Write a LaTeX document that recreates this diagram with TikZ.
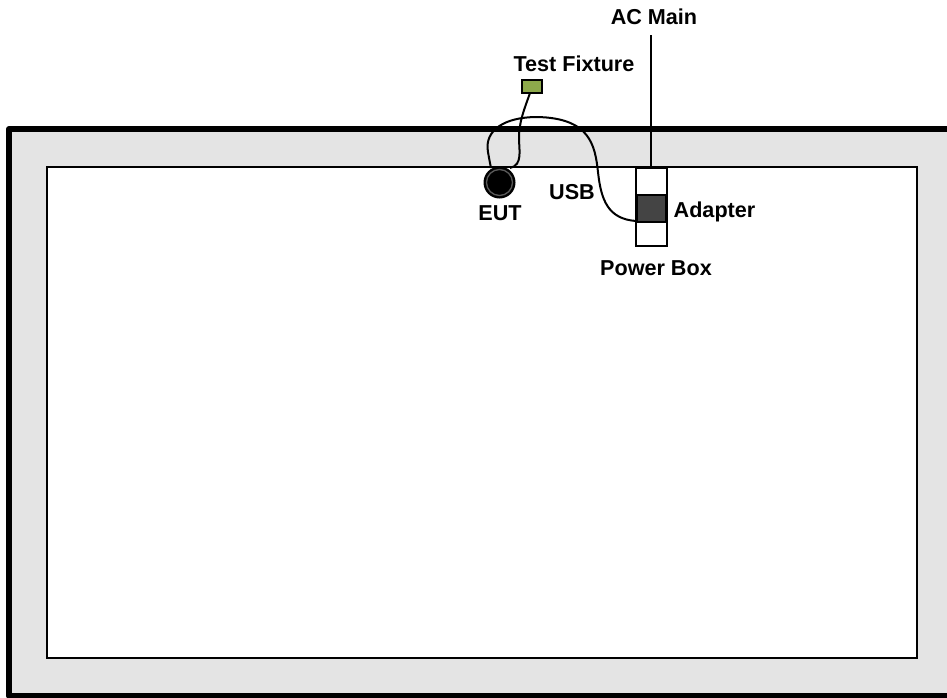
\documentclass[tikz,border=0pt]{standalone}
\usepackage{fontspec}
\setmainfont{Liberation Sans}
\definecolor{roomgray}{HTML}{E4E4E4}
\definecolor{fixgreen}{HTML}{8DA94B}
\definecolor{adaptgray}{HTML}{444444}
\tikzset{
  lbl/.style={font=\fontsize{16.2}{18}\selectfont\bfseries, inner sep=0pt, text=black},
  cable/.style={draw=black, line width=1.5pt},
  blockbox/.style={draw=black, line width=1.5pt, inner sep=0pt, minimum width=0pt}
}
\begin{document}
\begin{tikzpicture}[x=0.75pt,y=-0.75pt]
\useasboundingbox (0,0) rectangle (947,697);
\fill[white] (0,0) rectangle (947,697);
\begin{scope}
\clip (0,0) rectangle (947,697);
\path[fill=roomgray,draw=black,line width=4.5pt,line join=round] (980,129) -- (9,129) -- (9,695.5) -- (980,695.5);
\end{scope}
\node[draw=black,fill=white,line width=1.4pt,inner sep=0pt,minimum width=652pt,minimum height=368pt] (floor) at (482,412.5) {};
\node[blockbox,fill=white,minimum width=23pt,minimum height=58.5pt] (power) at (651.5,207) {};
\node[blockbox,fill=adaptgray,minimum width=21.5pt,minimum height=20pt] (adapter) at (651.5,208.5) {};
\node[fill=black,circle,inner sep=0pt,minimum size=24pt] (eut) at (499.5,182.5) {};
\draw[draw=black!65,line width=1pt] (eut.center) circle (13);
\node[blockbox,fill=fixgreen,line width=1.1pt,minimum width=15pt,minimum height=9.5pt] (fixture) at (532,86.5) {};
\node[lbl] (acmain) at (654,17) {AC Main};
\node[lbl] (fixlabel) at (574,64) {Test Fixture};
\node[lbl] (usblabel) at (572,192) {USB};
\node[lbl] (eutlabel) at (500,213) {EUT};
\node[lbl] (adlabel) at (714.5,212) {Adapter};
\node[lbl] (pblabel) at (656,268) {Power Box};
\coordinate (acend) at (650.5,35);
\coordinate (eutusb) at (491,168);
\coordinate (eutfix) at (510,168);
\coordinate (fixout) at (530,93);
\coordinate (adout) at (636,221);
\draw[cable] (acend) -- (acend |- power.north);
\draw[cable] (adout) .. controls (608,219) and (601,200) .. (598,172)
  .. controls (595,145) and (590,118) .. (537,117)
  .. controls (505,117) and (484,130) .. (488,152)
  .. controls (489,158) and (490,163) .. (eutusb);
\draw[cable] (fixout) .. controls (524,110) and (519,122) .. (519,138)
  .. controls (519,150) and (523,165) .. (eutfix);
\end{tikzpicture}
\end{document}
